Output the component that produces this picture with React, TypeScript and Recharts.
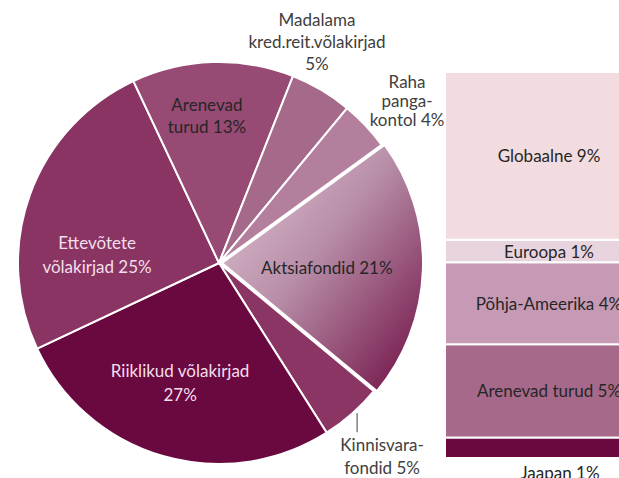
import React from 'react';
import { PieChart, Pie, Cell, BarChart, Bar, XAxis, YAxis, LabelList } from 'recharts';

const pieNames = ['Aktsiafondid', 'Kinnisvarafondid', 'Riiklikud võlakirjad', 'Ettevõtete võlakirjad', 'Arenevad turud', 'Madalama kred.reit.võlakirjad', 'Raha pangakontol'];
const pieValues = [21, 5, 27, 25, 13, 5, 4];
const pieLabelLines = [
  ['Aktsiafondid 21%'],
  ['Kinnisvara-', 'fondid 5%'],
  ['Riiklikud võlakirjad', '27%'],
  ['Ettevõtete', 'võlakirjad 25%'],
  ['Arenevad', 'turud 13%'],
  ['Madalama', 'kred.reit.võlakirjad', '5%'],
  ['Raha', 'panga-', 'kontol 4%'],
];

const barNames = ['Jaapan', 'Arenevad turud', 'Põhja-Ameerika', 'Euroopa', 'Globaalne'];
const barValues = [1.1, 5.0, 4.4, 1.2, 9.0];
const barLabels = ['Jaapan 1%', 'Arenevad turud 5%', 'Põhja-Ameerika 4%', 'Euroopa 1%', 'Globaalne 9%'];

const pieColors = ['url(#aktsiaGrad)', '#8a3564', '#6a0840', '#8a3464', '#974a74', '#a5698a', '#b47f9d'];
const barColors = ['#6a0840', '#a6698a', '#c69ab4', '#e8d4de', '#f2dcdf'];

// label placement: radius factor, angle shift (deg), color, line height
const labelPlace = [
  { rf: 0.537, da: -0.8, color: '#262626', lh: 22 },
  { rf: 1.257, da: -1.2, color: '#404040', lh: 23 },
  { rf: 0.623, da: -1.9, color: '#f3dfea', lh: 24 },
  { rf: 0.608, da: 16, color: '#f3dfea', lh: 24 },
  { rf: 0.734, da: 2.9, color: '#262626', lh: 22 },
  { rf: 1.203, da: 6.7, color: '#404040', lh: 22 },
  { rf: 1.238, da: -2.3, color: '#404040', lh: 19 },
];

const FONT = 'Lato, "Open Sans", sans-serif';
const FS = 17;
const RAD = Math.PI / 180;

const pieData = pieNames.map((name, i) => ({ name, value: pieValues[i] }));
const barRow: Record<string, number | string> = { name: 'Aktsiafondid' };
barNames.forEach((n, i) => { barRow[n] = barValues[i]; });
const barData = [barRow];
const barTotal = barValues.reduce((a, b) => a + b, 0);

const renderPieLabel = (props: any) => {
  const { cx, cy, midAngle, outerRadius, index } = props;
  const p = labelPlace[index];
  const ang = (midAngle + p.da) * RAD;
  const r = outerRadius * p.rf;
  const x = cx + r * Math.cos(ang);
  const y = cy - r * Math.sin(ang);
  const lines = pieLabelLines[index];
  const y0 = y - ((lines.length - 1) * p.lh) / 2;
  let leader = null;
  if (index === 1) {
    const a2 = (midAngle + 1.2) * RAD;
    const lx = cx + (outerRadius + 3) * Math.cos(a2);
    const ly = cy - (outerRadius + 3) * Math.sin(a2);
    leader = <line x1={lx} y1={ly} x2={lx} y2={ly + 19} stroke="#404040" strokeWidth={1} />;
  }
  return (
    <g key={`lbl-${index}`}>
      {leader}
      <text x={x} y={y0} textAnchor="middle" fill={p.color} fontFamily={FONT} fontSize={FS}>
        {lines.map((t, k) => (
          <tspan key={k} x={x} y={y0 + k * p.lh} dominantBaseline="central">{t}</tspan>
        ))}
      </text>
    </g>
  );
};

const renderBarLabel = (i: number) => (props: any) => {
  const { x, y, width, height } = props;
  const cxp = x + width / 2;
  if (i === 0) {
    return (
      <text x={cxp + 11} y={y + height + 14} textAnchor="middle" dominantBaseline="central" fill="#262626" fontFamily={FONT} fontSize={FS}>
        {barLabels[i]}
      </text>
    );
  }
  return (
    <text x={cxp} y={y + height / 2} textAnchor="middle" dominantBaseline="central" fill="#262626" fontFamily={FONT} fontSize={FS}>
      {barLabels[i]}
    </text>
  );
};

export default function App() {
  return (
    <div style={{ position: 'absolute', left: 0, top: 0, width: 619, height: 478, overflow: 'hidden', background: '#fff' }}>
      <div style={{ position: 'absolute', left: 0, top: 0 }}>
        <PieChart width={619} height={478} margin={{ top: 0, right: 0, bottom: 0, left: 0 }}>
          <defs>
            <linearGradient id="aktsiaGrad" x1="0" y1="0" x2="1" y2="1">
              <stop offset="0%" stopColor="#e2cbd8" />
              <stop offset="45%" stopColor="#b88ea8" />
              <stop offset="100%" stopColor="#6e0c42" />
            </linearGradient>
          </defs>
          <Pie
            data={pieData}
            dataKey="value"
            nameKey="name"
            cx={219}
            cy={263}
            outerRadius={201}
            startAngle={36}
            endAngle={-324}
            stroke="#ffffff"
            strokeWidth={2}
            labelLine={false}
            label={renderPieLabel}
            isAnimationActive={false}
          >
            {pieData.map((d, i) => (
              <Cell key={d.name} fill={i === 0 ? 'none' : pieColors[i]} stroke={i === 0 ? 'none' : '#ffffff'} />
            ))}
          </Pie>
          <Pie
            data={pieData}
            dataKey="value"
            nameKey="name"
            cx={222}
            cy={263}
            outerRadius={201}
            startAngle={36}
            endAngle={-324}
            stroke="#ffffff"
            strokeWidth={2}
            labelLine={false}
            isAnimationActive={false}
          >
            {pieData.map((d, i) => (
              <Cell key={d.name} fill={i === 0 ? pieColors[0] : 'none'} stroke={i === 0 ? '#ffffff' : 'none'} />
            ))}
          </Pie>
        </PieChart>
      </div>
      <div style={{ position: 'absolute', left: 445, top: 0 }}>
        <BarChart width={208} height={478} data={barData} margin={{ top: 72, right: 0, bottom: 20, left: 0 }} barCategoryGap={0}>
          <XAxis dataKey="name" hide />
          <YAxis hide width={0} domain={[0, barTotal]} />
          {barNames.map((n, i) => (
            <Bar key={n} dataKey={n} stackId="a" fill={barColors[i]} stroke="#ffffff" strokeWidth={2} isAnimationActive={false}>
              <LabelList dataKey={n} content={renderBarLabel(i)} />
            </Bar>
          ))}
        </BarChart>
      </div>
    </div>
  );
}
